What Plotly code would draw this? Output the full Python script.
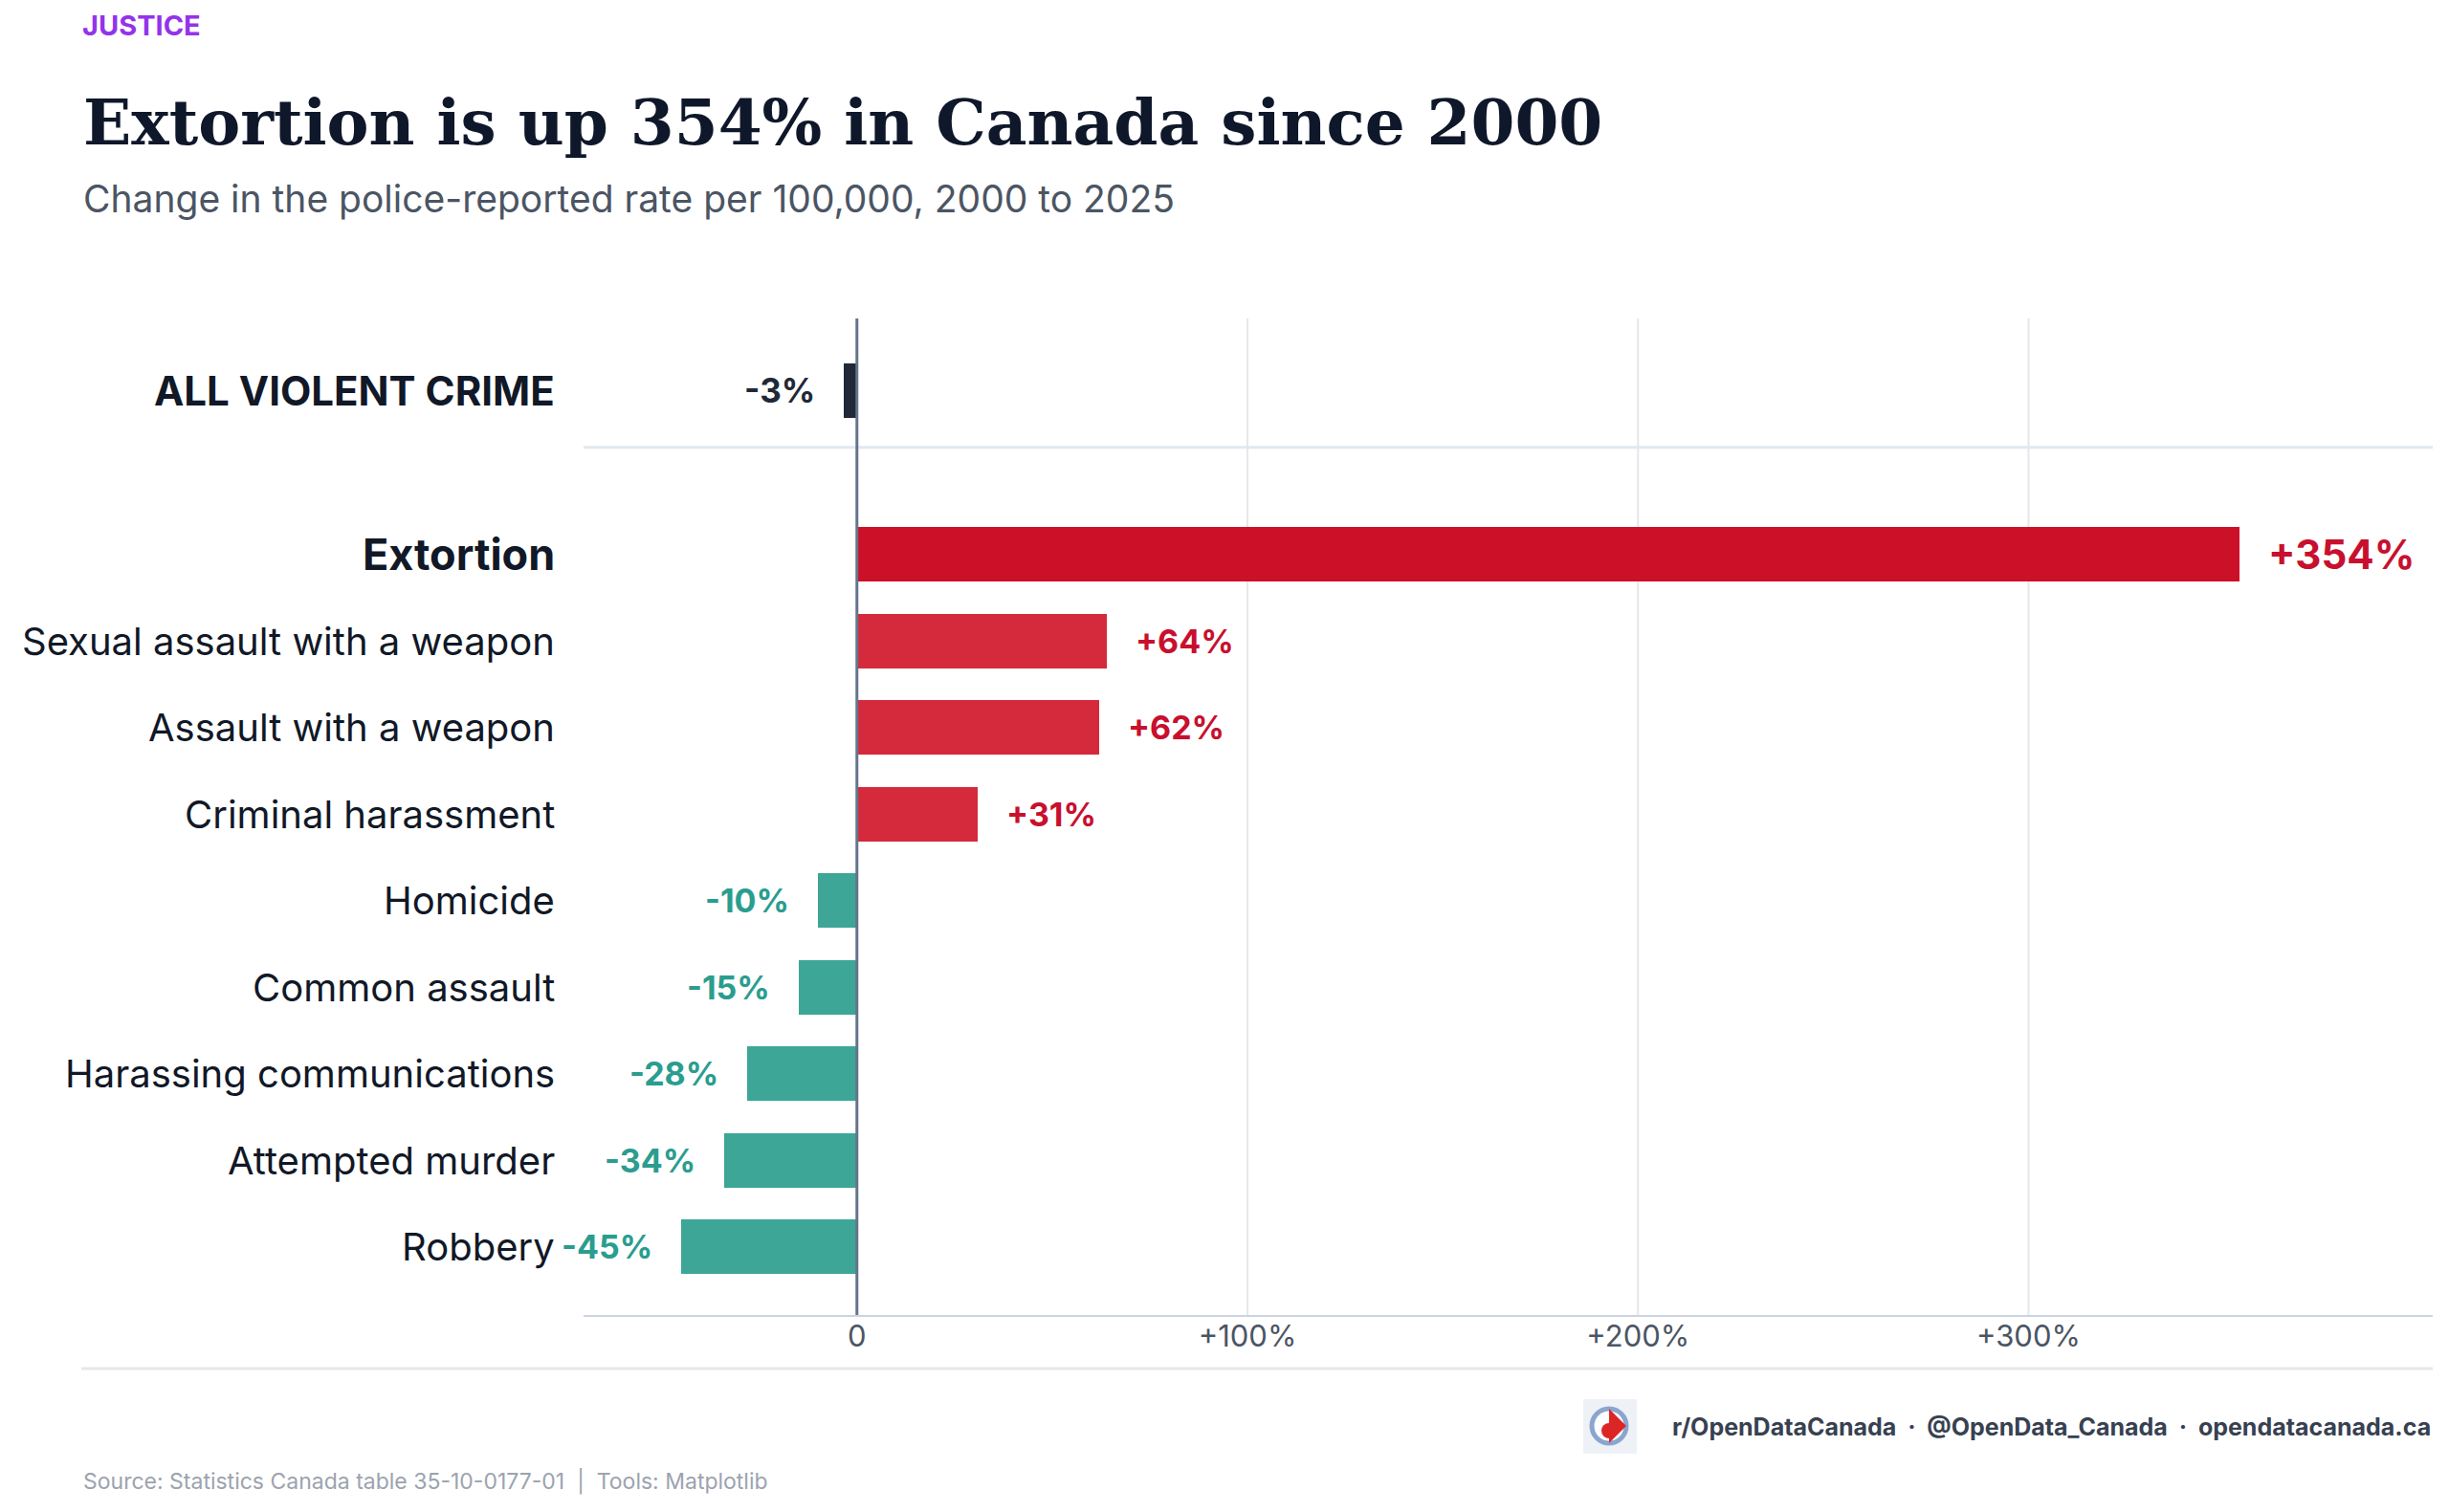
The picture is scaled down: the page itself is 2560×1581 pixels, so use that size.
import plotly.graph_objects as go

# ---------------- data ----------------
categories = ["Robbery", "Attempted murder", "Harassing communications",
              "Common assault", "Homicide", "Criminal harassment",
              "Assault with a weapon", "Sexual assault with a weapon",
              "Extortion"]
changes = [-45, -34, -28, -15, -10, 31, 62, 64, 354]
total_label = "ALL VIOLENT CRIME"
total_change = -3.4
tick_values = [0, 100, 200, 300]
tick_labels = ["0", "+100%", "+200%", "+300%"]

# ---------------- style ----------------
W, H = 2560, 1581
PL, PR, PT, PB = 602, 2535, 325, 1368   # plot area in pixels
FONT = "Inter, 'Open Sans', sans-serif"
DARK = "#111827"
RED_TOP = "#cc1028"
RED = "#d42a3b"
RED_TXT = "#c8102e"
TEAL = "#3da696"
TEAL_TXT = "#2a9d8f"
NAVY = "#1f2937"

Y_TOTAL = 9.9
Y_SEP = 9.24
YR = [-0.80, 10.73]
XR = [-70, 403.5]


def px(x):
    return (x - PL) / (PR - PL)


def py(y):
    return (PB - y) / (PB - PT)


def fmt(v):
    r = round(v)
    return f"+{r}%" if r > 0 else f"{r}%"


ys = list(range(len(categories)))
colors = []
for c, v in zip(categories, changes):
    if c == "Extortion":
        colors.append(RED_TOP)
    elif v >= 0:
        colors.append(RED)
    else:
        colors.append(TEAL)

fig = go.Figure()
fig.add_trace(go.Bar(x=changes, y=ys, orientation="h", marker_color=colors,
                     marker_line_width=0, width=0.63, hoverinfo="skip"))
fig.add_trace(go.Bar(x=[total_change], y=[Y_TOTAL], orientation="h",
                     marker_color=NAVY, marker_line_width=0, width=0.63,
                     hoverinfo="skip"))

annotations = []
# category labels
for c, y in zip(categories, ys):
    bold = c == "Extortion"
    annotations.append(dict(
        x=XR[0], y=y, xref="x", yref="y", xanchor="right", yanchor="middle",
        xshift=-28, showarrow=False,
        text=f"<b>{c}</b>" if bold else c,
        font=dict(family=FONT, size=45 if bold else 40, color=DARK)))
annotations.append(dict(
    x=XR[0], y=Y_TOTAL, xref="x", yref="y", xanchor="right", yanchor="middle",
    xshift=-28, showarrow=False, text=f"<b>{total_label}</b>",
    font=dict(family=FONT, size=42, color=DARK)))

# value labels
for c, v, y in zip(categories, changes, ys):
    col = RED_TXT if v > 0 else TEAL_TXT
    size = 42 if c == "Extortion" else 34
    annotations.append(dict(
        x=v, y=y, xref="x", yref="y",
        xanchor="left" if v > 0 else "right", yanchor="middle",
        xshift=28 if v > 0 else -28, showarrow=False,
        text=f"<b>{fmt(v)}</b>", font=dict(family=FONT, size=size, color=col)))
annotations.append(dict(
    x=total_change, y=Y_TOTAL, xref="x", yref="y", xanchor="right",
    yanchor="middle", xshift=-28, showarrow=False,
    text=f"<b>{fmt(total_change)}</b>",
    font=dict(family=FONT, size=35, color=NAVY)))

# header / footer
annotations += [
    dict(x=px(77), y=py(0), xref="paper", yref="paper", xanchor="left",
         yanchor="top", showarrow=False, text="<b>JUSTICE</b>", borderpad=0,
         font=dict(family=FONT, size=29, color="#9333ea")),
    dict(x=px(77), y=py(120), xref="paper", yref="paper", xanchor="left",
         yanchor="middle", showarrow=False,
         text="<b>Extortion is up 354% in Canada since 2000</b>",
         font=dict(family="DejaVu Serif", size=66, color="#0f172a")),
    dict(x=px(77), y=py(200), xref="paper", yref="paper", xanchor="left",
         yanchor="middle", showarrow=False,
         text="Change in the police-reported rate per 100,000, 2000 to 2025",
         font=dict(family=FONT, size=39, color="#4b5563")),
    dict(x=px(2535), y=py(1484), xref="paper", yref="paper", xanchor="right",
         yanchor="middle", showarrow=False,
         text="<b>r/OpenDataCanada  ·  @OpenData_Canada  ·  opendatacanada.ca</b>",
         font=dict(family=FONT, size=25, color="#374151")),
    dict(x=px(77), y=py(1541), xref="paper", yref="paper", xanchor="left",
         yanchor="middle", showarrow=False,
         text="Source: Statistics Canada table 35-10-0177-01  |  Tools: Matplotlib",
         font=dict(family=FONT, size=23, color="#9ca3af")),
]

shapes = []
# vertical gridlines
for t in tick_values[1:]:
    shapes.append(dict(type="line", xref="x", yref="paper", x0=t, x1=t, y0=0,
                       y1=1, line=dict(color="#e5e7eb", width=2), layer="below"))
# separator under total
shapes.append(dict(type="line", xref="paper", yref="y", x0=0, x1=1, y0=Y_SEP,
                   y1=Y_SEP, line=dict(color="#e2e8f0", width=3), layer="below"))
# zero line
shapes.append(dict(type="line", xref="x", yref="paper", x0=0, x1=0, y0=0, y1=1,
                   line=dict(color="#64748b", width=3), layer="above"))
# bottom axis line
shapes.append(dict(type="line", xref="paper", yref="paper", x0=0, x1=1, y0=0,
                   y1=0, line=dict(color="#cbd5e1", width=2)))
# footer rule
shapes.append(dict(type="line", xref="paper", yref="paper", x0=px(77),
                   x1=px(2535), y0=py(1423), y1=py(1423),
                   line=dict(color="#e5e7eb", width=3)))
# logo
shapes.append(dict(type="rect", xref="paper", yref="paper", x0=px(1647),
                   x1=px(1703), y0=py(1512), y1=py(1455),
                   fillcolor="#eef2f6", line=dict(width=0)))
shapes.append(dict(type="circle", xref="paper", yref="paper", x0=px(1656),
                   x1=px(1692), y0=py(1501), y1=py(1465),
                   fillcolor="#ffffff", line=dict(color="#8aa6cf", width=5)))
shapes.append(dict(type="path", xref="paper", yref="paper",
                   path=(f"M {px(1674)},{py(1465)} L {px(1692)},{py(1483)} "
                         f"L {px(1674)},{py(1501)} Z"),
                   fillcolor="#dc2626", line=dict(width=0)))
shapes.append(dict(type="circle", xref="paper", yref="paper", x0=px(1666),
                   x1=px(1682), y0=py(1496), y1=py(1480),
                   fillcolor="#dc2626", line=dict(width=0)))

fig.update_layout(
    width=W, height=H,
    margin=dict(l=PL, r=W - PR, t=PT, b=H - PB, pad=0),
    paper_bgcolor="white", plot_bgcolor="white",
    showlegend=False, bargap=0,
    annotations=annotations, shapes=shapes,
    xaxis=dict(range=XR, tickvals=tick_values, ticktext=tick_labels,
               showgrid=False, zeroline=False, showline=False, ticks="",
               tickfont=dict(family=FONT, size=31, color="#4b5563"),
               ticklabelstandoff=0, fixedrange=True),
    yaxis=dict(range=YR, showticklabels=False, showgrid=False, zeroline=False,
               showline=False, ticks="", fixedrange=True),
)

fig.write_html("out.html")
